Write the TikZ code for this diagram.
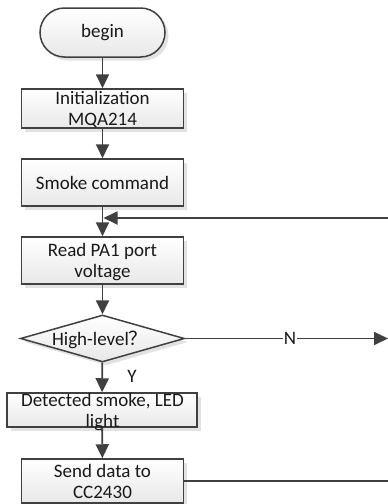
\documentclass[tikz,border=0pt]{standalone}
\usepackage{fontspec}
\setmainfont{Carlito}
\newfontfamily\cjk{Noto Sans CJK SC}
\usetikzlibrary{arrows.meta,shapes.geometric,shadows}
\definecolor{lineclr}{HTML}{404040}
\begin{document}
\begin{tikzpicture}[x=1pt,y=-1pt,
  every node/.style={font=\fontsize{19}{21}\selectfont, text=black!90},
  shapebase/.style={draw=lineclr, line width=1.5pt, top color=white, bottom color=black!9,
    drop shadow={shadow xshift=3.5pt, shadow yshift=-3.5pt, fill=black!25, opacity=0.45},
    inner sep=0pt},
  stepbox/.style={shapebase, rectangle, minimum width=162pt, minimum height=47pt},
  termbox/.style={shapebase, rectangle, rounded corners=24.5pt, minimum width=125pt, minimum height=49pt},
  decbox/.style={shapebase, diamond, minimum width=164pt, minimum height=47pt},
  label/.style={align=center, inner sep=0pt},
  flow/.style={draw=lineclr, line width=1.8pt, -{Triangle[length=14pt,width=13pt]}},
  plain/.style={draw=lineclr, line width=1.8pt},
]
\clip (0,0) rectangle (388,504);
\fill[white] (0,0) rectangle (388,504);

% shapes
\node[termbox] (begin) at (102.5,32.5) {};
\node[stepbox, minimum height=39pt] (init) at (102.5,108.5) {};
\node[stepbox] (smoke) at (102.5,182.5) {};
\node[stepbox] (read) at (102.5,260.5) {};
\node[decbox] (dec) at (102.5,338.5) {};
\node[stepbox, minimum width=190pt, minimum height=34pt] (det) at (102,410) {};
\node[stepbox, minimum height=44pt] (send) at (102.5,481) {};

% texts
\node[label] (begin-t) at (102.5,33) {begin};
\node[label] (init-t) at (102.5,110) {Initialization\\MQA214};
\node[label] (smoke-t) at (102.5,183) {Smoke command};
\node[label] (read-t) at (102.5,262) {Read PA1 port\\voltage};
\node[label] (dec-t) at (100,340) {High-level{\cjk ？}};
\node[label] (det-t) at (102.5,412) {Detected smoke, LED\\light};
\node[label] (send-t) at (102.5,481.5) {Send data to\\CC2430};

% connectors
\path[flow] (begin) -- (init);
\path[flow] (init) -- (smoke);
\path[flow] (smoke) -- (read);
\path[flow] (read) -- (dec);
\path[flow] (dec) -- (det);
\path[flow] (det) -- (send);

\coordinate (join) at (103.5,218);
\coordinate (sendout) at (395,481);
\coordinate (backin) at (395,218);
\path[plain] (send.east) -- (sendout);
\path[flow] (backin) -- (join);

\coordinate (noout) at (388,338.5);
\path[flow] (dec.east) -- (noout);
\node[fill=white, inner sep=1pt] (nlab) at (290,338.5) {N};
\node (ylab) at (132,376) {Y};
\end{tikzpicture}
\end{document}
